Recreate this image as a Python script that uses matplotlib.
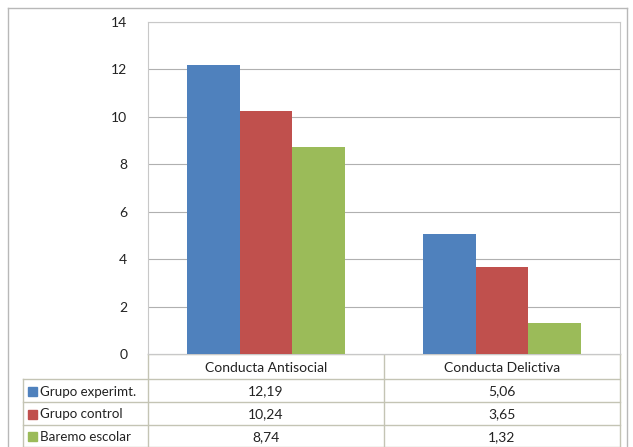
import numpy as np
import matplotlib.pyplot as plt

plt.rcParams['font.family'] = ['Lato', 'DejaVu Sans']

categories = ['Conducta Antisocial', 'Conducta Delictiva']
series = ['Grupo experimt.', 'Grupo control', 'Baremo escolar']
values = [
    [12.19, 5.06],
    [10.24, 3.65],
    [8.74, 1.32],
]
colors = ['#4F81BD', '#C0504D', '#9BBB59']
yticks = [0, 2, 4, 6, 8, 10, 12, 14]

W, H = 633, 447
fig = plt.figure(figsize=(W / 100, H / 100), dpi=100)

# overlay in pixel coordinates for the frame and the data table
ov = fig.add_axes([0, 0, 1, 1])
ov.set_xlim(0, W)
ov.set_ylim(H, 0)
ov.axis('off')

px_l, px_r, px_t, px_b = 148, 620, 22, 354
ax = fig.add_axes([px_l / W, 1 - px_b / H, (px_r - px_l) / W, (px_b - px_t) / H])

x = np.arange(len(categories))
bw = 1 / 4.5
for i, (name, vals) in enumerate(zip(series, values)):
    ax.bar(x + (i - 1) * bw, vals, width=bw, color=colors[i], zorder=3)

ax.set_xlim(-0.5, len(categories) - 0.5)
ax.set_ylim(0, 14)
ax.set_yticks(yticks)
ax.set_yticklabels([str(t) for t in yticks], fontsize=10, color='#222222')
ax.tick_params(axis='y', length=0, pad=15)
ax.set_xticks([])
ax.grid(axis='y', color='#B0B0B0', linewidth=0.8, zorder=0)
for s in ax.spines.values():
    s.set_color('#C8C8C8')
    s.set_linewidth(0.8)

# outer chart frame
fc = '#B8B8B8'
ov.plot([8, 8], [8, H + 5], color=fc, lw=1)
ov.plot([627, 627], [8, H + 5], color=fc, lw=1)
ov.plot([8, 627], [8, 8], color=fc, lw=1)

# data table below the plot
lc = '#C4C4B4'
col_x = [23, px_l, (px_l + px_r) / 2, px_r]
row_y = [px_b, 379, 402, 425, 447]
ov.plot([px_l, px_l], [px_b, row_y[-1]], color=lc, lw=1)
ov.plot([col_x[2], col_x[2]], [px_b, row_y[-1]], color=lc, lw=1)
ov.plot([px_r, px_r], [px_b, row_y[-1]], color=lc, lw=1)
ov.plot([col_x[0], col_x[0]], [row_y[1], row_y[-1]], color=lc, lw=1)
ov.plot([px_l, px_r], [row_y[0], row_y[0]], color=lc, lw=1)
for y in row_y[1:]:
    ov.plot([col_x[0], px_r], [y, y], color=lc, lw=1)

for j, cat in enumerate(categories):
    cx = (col_x[j + 1] + col_x[j + 2]) / 2
    ov.text(cx, (row_y[0] + row_y[1]) / 2 + 1, cat, ha='center', va='center',
            fontsize=10, color='#222222')

for i, name in enumerate(series):
    cy = (row_y[i + 1] + row_y[i + 2]) / 2 + 1
    ov.add_patch(plt.Rectangle((28, cy - 5), 9, 9, color=colors[i]))
    ov.text(40, cy, name, ha='left', va='center', fontsize=9.6, color='#222222')
    for j in range(len(categories)):
        cx = (col_x[j + 1] + col_x[j + 2]) / 2
        ov.text(cx, cy, f'{values[i][j]:.2f}'.replace('.', ','), ha='center',
                va='center', fontsize=10, color='#222222')

fig.savefig('out.png', dpi=100)
